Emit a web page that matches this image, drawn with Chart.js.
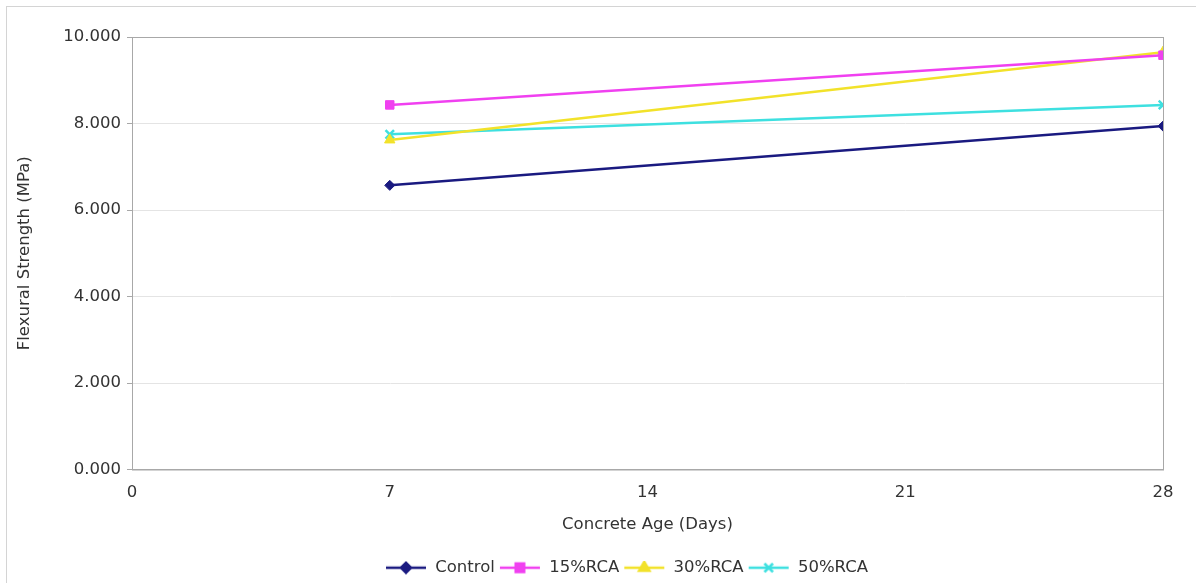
<!DOCTYPE html>
<html>
<head>
<meta charset="utf-8">
<script src="https://cdn.jsdelivr.net/npm/chart.js@4/dist/chart.umd.min.js"></script>
<style>
  html, body { margin: 0; padding: 0; background: #fff; }
  #wrap { position: relative; width: 1196px; height: 583px; }
  #frame { position: absolute; left: 6px; top: 6px; width: 1196px; height: 583px; border: 1px solid #d4d4d4; box-sizing: border-box; }
  canvas { position: absolute; left: 0; top: 0; }
</style>
</head>
<body>
<div id="wrap">
  <div id="frame"></div>
  <canvas id="flexChart" width="1196" height="583"></canvas>
</div>
<script>
const ages = [7, 28];
const control = [6.57, 7.94];
const rca15 = [8.43, 9.58];
const rca30 = [7.62, 9.65];
const rca50 = [7.75, 8.43];
const xTicks = [0, 7, 14, 21, 28];
const yTicks = [0, 2, 4, 6, 8, 10];

const FONT = 'Verdana, "DejaVu Sans", sans-serif';
const FS = 16.5;

function series(label, values, color, style, radius) {
    return {
        label: label,
        data: ages.map((a, i) => ({ x: a, y: values[i] })),
        borderColor: color,
        backgroundColor: color,
        borderWidth: 2.5,
        pointStyle: style,
        pointRadius: radius,
        pointBorderWidth: style === 'crossRot' ? 2.5 : 1,
        fill: false,
        tension: 0
    };
}

// small legend glyph: line with marker in the middle
function legendIcon(ds) {
    const c = document.createElement('canvas');
    c.width = 42; c.height = 14;
    const g = c.getContext('2d');
    g.strokeStyle = ds.borderColor;
    g.fillStyle = ds.backgroundColor;
    g.lineWidth = 2.5;
    g.beginPath(); g.moveTo(1, 7); g.lineTo(41, 7); g.stroke();
    Chart.helpers.drawPoint(g, { pointStyle: ds.pointStyle, radius: ds.pointRadius, borderWidth: ds.pointBorderWidth }, 21, 7);
    g.fill();
    return c;
}

const plotBorder = {
    id: 'plotBorder',
    afterLayout(chart) {
        // legend sits a bit right of centre in the original
        const lg = chart.legend;
        lg.left += 45; lg.right += 45;
        lg.top += 3; lg.bottom += 3;
    },
    afterDraw(chart) {
        const a = chart.chartArea, ctx = chart.ctx;
        ctx.save();
        ctx.strokeStyle = '#a8a8a8';
        ctx.lineWidth = 1;
        ctx.strokeRect(a.left + 0.5, a.top + 0.5, a.right - a.left, a.bottom - a.top);
        ctx.restore();
    }
};

new Chart(document.getElementById('flexChart').getContext('2d'), {
    type: 'line',
    data: {
        datasets: [
            series('Control', control, '#1a1a80', 'rectRot', 5),
            series('15%RCA', rca15, '#f040f0', 'rect', 6),
            series('30%RCA', rca30, '#f2e22a', 'triangle', 6),
            series('50%RCA', rca50, '#3ee0e0', 'crossRot', 6)
        ]
    },
    plugins: [plotBorder],
    options: {
        responsive: false,
        animation: false,
        layout: { padding: { left: 0, right: 33, top: 37, bottom: 0 } },
        scales: {
            x: {
                type: 'linear',
                min: 0, max: 28,
                afterBuildTicks: s => { s.ticks = xTicks.map(v => ({ value: v })); },
                grid: { display: false, drawTicks: true, tickLength: 5 },
                border: { color: '#a8a8a8' },
                ticks: { color: '#333', font: { family: FONT, size: FS }, padding: 8 },
                title: { display: true, text: 'Concrete Age (Days)', color: '#333', font: { family: FONT, size: FS }, padding: { top: 4, bottom: 18 } },
                afterFit: s => { s.height = 83; }
            },
            y: {
                min: 0, max: 10,
                afterBuildTicks: s => { s.ticks = yTicks.map(v => ({ value: v })); },
                grid: { color: '#e4e4e4', tickLength: 5, tickColor: '#a8a8a8' },
                border: { color: '#a8a8a8' },
                ticks: { color: '#333', font: { family: FONT, size: FS }, padding: 6, callback: v => v.toFixed(3) },
                title: { display: true, text: 'Flexural Strength (MPa)', color: '#333', font: { family: FONT, size: FS }, padding: { top: 15, bottom: 0 } },
                afterFit: s => { s.width = 132; }
            }
        },
        plugins: {
            legend: {
                position: 'bottom',
                labels: {
                    usePointStyle: true,
                    pointStyleWidth: 42,
                    color: '#333',
                    font: { family: FONT, size: FS },
                    padding: 4,
                    generateLabels: chart => chart.data.datasets.map((ds, i) => ({
                        text: ds.label,
                        pointStyle: legendIcon(ds),
                        fillStyle: ds.backgroundColor,
                        strokeStyle: ds.borderColor,
                        lineWidth: 0,
                        datasetIndex: i,
                        fontColor: '#333'
                    }))
                }
            },
            tooltip: { enabled: false }
        }
    }
});
</script>
</body>
</html>
